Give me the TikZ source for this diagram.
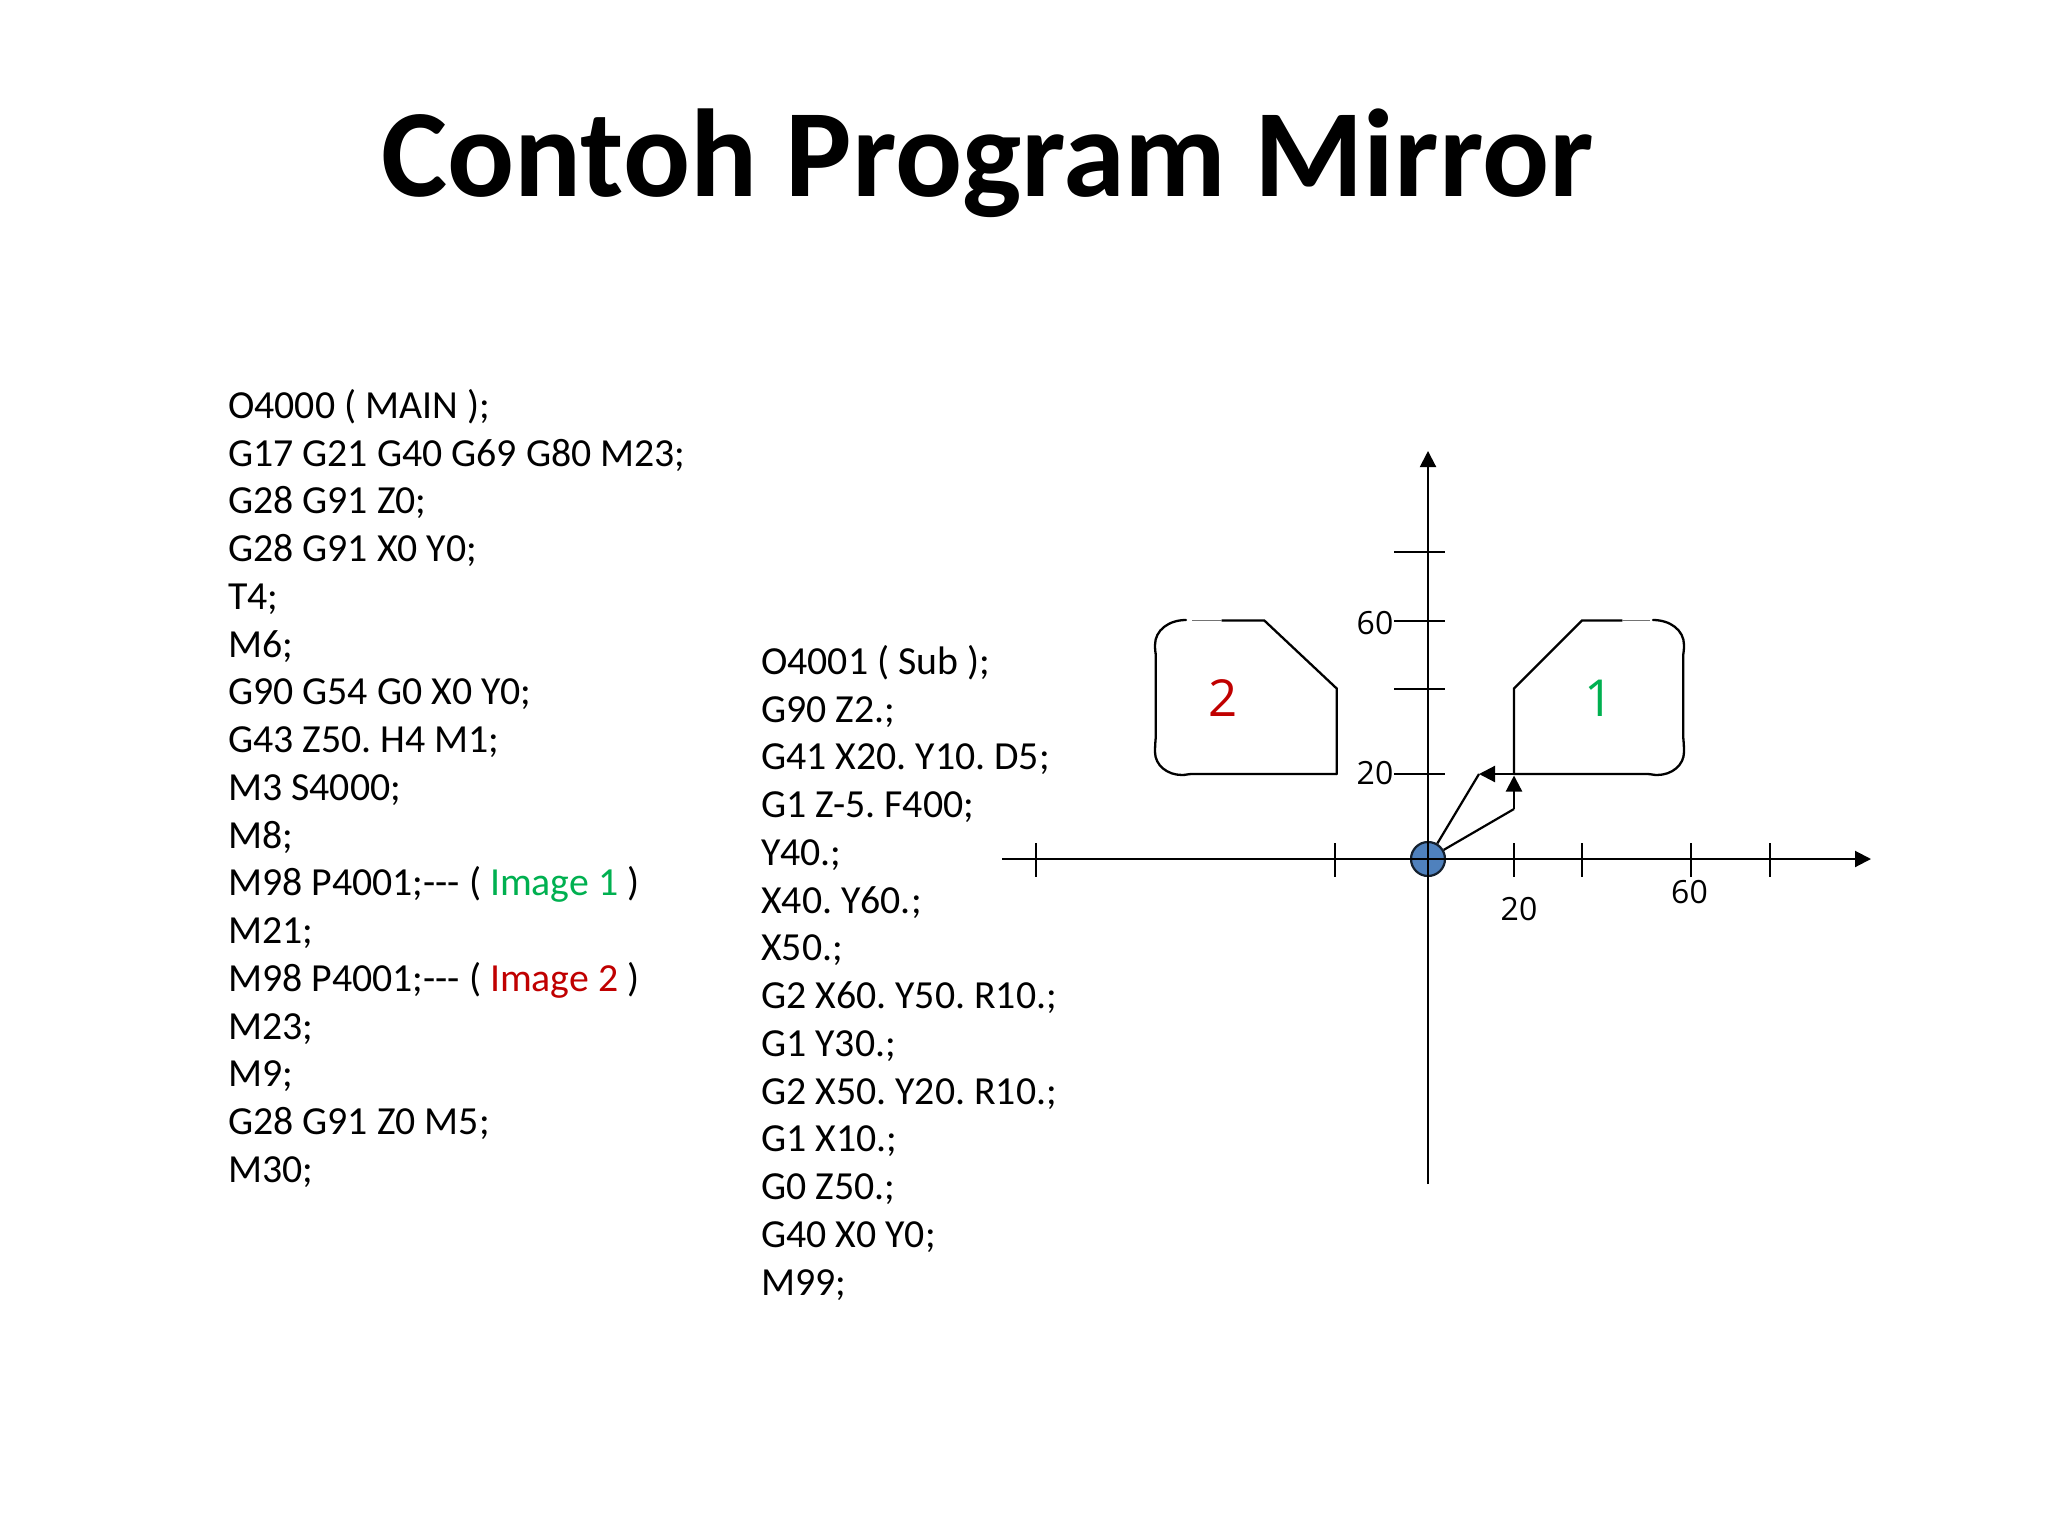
\documentclass[tikz,border=0pt]{standalone}
\usepackage{fontspec}
\usetikzlibrary{arrows.meta}
\newfontfamily\carlitofont{Carlito}
\newfontfamily\labelfont{Open Sans}
\definecolor{imgone}{HTML}{00B050}
\definecolor{imgtwo}{HTML}{C00000}
\definecolor{originblue}{HTML}{4F81BD}
\definecolor{originline}{HTML}{14202E}
\tikzset{
  codeblock/.style={anchor=north west,inner sep=0pt,align=left,text=black,
    font=\carlitofont\fontsize{39.8pt}{47.75pt}\selectfont\frenchspacing},
  titletext/.style={anchor=base,inner sep=0pt,font=\carlitofont\bfseries\fontsize{125pt}{150pt}\selectfont},
  axislabel/.style={inner sep=0pt,font=\labelfont\fontsize{32pt}{38pt}\selectfont},
  shapelabel/.style={inner sep=0pt,font=\labelfont\fontsize{51pt}{60pt}\selectfont},
  axisline/.style={line width=2pt,-{Triangle[length=16pt,width=16pt]}},
  tick/.style={line width=2pt},
  contour/.style={line width=2.3pt,line join=miter,line cap=round},
  thincontour/.style={line width=1.3pt,draw=black!55},
  pathline/.style={line width=2.2pt},
  pathtip/.style={line width=2.2pt,-{Triangle[length=16pt,width=16pt]}},
  originmark/.style={circle,draw=originline,line width=2.2pt,fill=originblue,minimum size=34pt,inner sep=0pt}
}
\begin{document}
\begin{tikzpicture}[x=1pt,y=-1pt]
\useasboundingbox (0,0) rectangle (2048,1536);
\fill[white] (0,0) rectangle (2048,1536);
\node[titletext] (title) at (987.6,196) {Contoh Program Mirror};
\node[codeblock] (main) at (228,389) {O4000 ( MAIN );\\
G17 G21 G40 G69 G80 M23;\\
G28 G91 Z0;\\
G28 G91 X0 Y0;\\
T4;\\
M6;\\
G90 G54 G0 X0 Y0;\\
G43 Z50. H4 M1;\\
M3 S4000;\\
M8;\\
M98 P4001;--- ( \textcolor{imgone}{Image 1} )\\
M21;\\
M98 P4001;--- ( \textcolor{imgtwo}{Image 2} )\\
M23;\\
M9;\\
G28 G91 Z0 M5;\\
M30;};
\node[codeblock] (sub) at (761,645) {O4001 ( Sub );\\
G90 Z2.;\\
G41 X20. Y10. D5;\\
G1 Z-5. F400;\\
Y40.;\\
X40. Y60.;\\
X50.;\\
G2 X60. Y50. R10.;\\
G1 Y30.;\\
G2 X50. Y20. R10.;\\
G1 X10.;\\
G0 Z50.;\\
G40 X0 Y0;\\
M99;};
% origin marker below the axes
\node[originmark] (origin) at (1428,859) {};
% axes
\coordinate (xstart) at (1002,859);
\coordinate (xend) at (1871,859);
\coordinate (ystart) at (1428,1184);
\coordinate (yend) at (1428,451);
\draw[axisline] (xstart) -- (xend);
\draw[axisline] (ystart) -- (yend);
\foreach \tx in {1036,1335,1514,1582,1691,1770}
  \draw[tick] (\tx,843) -- (\tx,877);
\foreach \ty in {552,621,689,774}
  \draw[tick] (1394,\ty) -- (1445,\ty);
% labels
\node[axislabel] (ysixty) at (1375,623.5) {60};
\node[axislabel] (ytwenty) at (1375,773.5) {20};
\node[axislabel] (xtwenty) at (1519,909) {20};
\node[axislabel] (xsixty) at (1689.5,892) {60};
% contour 1
\draw[contour] (1514,774) -- (1514,688.5) -- (1582,620.5) -- (1622,620.5);
\draw[thincontour] (1622,620.5) -- (1650,620.5);
\draw[contour] (1653,620) .. controls (1670,620) and (1684,630) .. (1684,645)
  .. controls (1684,649) and (1683.7,652) .. (1683.2,655) -- (1683.2,737)
  .. controls (1683.7,742) and (1684,747) .. (1684,752)
  .. controls (1684,765) and (1672,775) .. (1657,775)
  .. controls (1653,775) and (1651,774) .. (1648,774) -- (1514,774);
% contour 2
\draw[contour] (1336.7,774) -- (1336.7,688.5) -- (1264.3,620.5) -- (1222,620.5);
\draw[thincontour] (1222,620.5) -- (1192,620.5);
\draw[contour] (1186,620) .. controls (1169,620) and (1155,630) .. (1155,645)
  .. controls (1155,649) and (1155.3,652) .. (1155.8,655) -- (1155.8,737)
  .. controls (1155.3,742) and (1155,747) .. (1155,752)
  .. controls (1155,765) and (1167,775) .. (1182,775)
  .. controls (1186,775) and (1188,774) .. (1192,774) -- (1336.7,774);
\node[shapelabel,text=imgone] (one) at (1599.5,698.5) {1};
\node[shapelabel,text=imgtwo] (two) at (1223.5,698.5) {2};
% approach paths
\coordinate (pa) at (1479,774);
\coordinate (pb) at (1514,809);
\coordinate (pc) at (1514,775.5);
\coordinate (pd) at (1514,774);
\draw[pathline] (origin) -- (pa);
\draw[pathtip] (pd) -- (pa);
\draw[pathline] (origin) -- (pb);
\draw[pathtip] (pb) -- (pc);
\end{tikzpicture}
\end{document}
